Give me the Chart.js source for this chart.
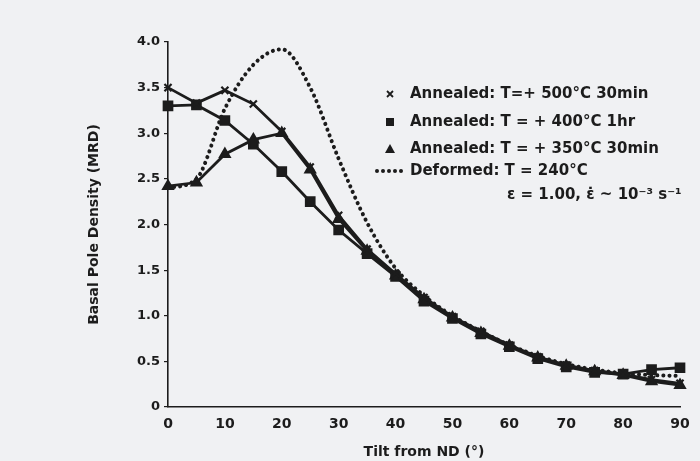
<!DOCTYPE html>
<html>
<head>
<meta charset="utf-8">
<script src="https://cdn.jsdelivr.net/npm/chart.js@4/dist/chart.umd.min.js"></script>
<style>
  html, body { margin: 0; padding: 0; background: #f0f1f3; }
  #wrap { width: 700px; height: 461px; position: relative; }
</style>
</head>
<body>
<div id="wrap"><canvas id="pole"></canvas></div>
<script>
'use strict';
// tilt angle from ND, degrees
const tilt = [0,5,10,15,20,25,30,35,40,45,50,55,60,65,70,75,80,85,90];
// basal pole density (MRD) for each condition
const annealed500 = [3.50,3.33,3.47,3.32,3.02,2.63,2.10,1.73,1.46,1.20,0.99,0.83,0.68,0.55,0.46,0.40,0.36,0.30,0.26];
const annealed400 = [3.30,3.31,3.14,2.88,2.58,2.25,1.94,1.68,1.43,1.16,0.97,0.80,0.66,0.53,0.44,0.38,0.36,0.41,0.43];
const annealed350 = [2.42,2.46,2.77,2.93,3.00,2.60,2.06,1.71,1.44,1.18,0.98,0.81,0.67,0.54,0.45,0.39,0.35,0.28,0.24];
const deformed    = [2.40,2.50,3.27,3.75,3.92,3.50,2.72,2.02,1.52,1.22,1.00,0.83,0.68,0.56,0.47,0.41,0.37,0.35,0.34];
const xTicks = [0,10,20,30,40,50,60,70,80,90];
const yTicks = [0,0.5,1.0,1.5,2.0,2.5,3.0,3.5,4.0];
const legendText = [
  'Annealed: T=+ 500°C 30min',
  'Annealed: T = + 400°C 1hr',
  'Annealed: T = + 350°C 30min',
  'Deformed: T = 240°C',
  'ε = 1.00, ε̇ ~ 10⁻³ s⁻¹'
];

const INK = '#1c1c1c';
const FONT = '"DejaVu Sans", "Liberation Sans", sans-serif';

const pts = arr => arr.map((v,i) => ({x: tilt[i], y: v}));

function marked(data, style, radius) {
  return {
    data: pts(data), borderColor: INK, backgroundColor: INK, borderWidth: 2.8,
    pointStyle: style, pointRadius: radius, pointBorderWidth: 2.2, pointBackgroundColor: INK,
    tension: 0, clip: false
  };
}

// little symbol + text block sitting inside the plot, top right
const legendBox = {
  id: 'legendBox',
  afterDraw(chart) {
    const ctx = chart.ctx;
    const rows = [94, 122, 149, 171];
    const sx = 390, tx = 410;
    ctx.save();
    ctx.fillStyle = INK; ctx.strokeStyle = INK;
    // x marker
    ctx.lineWidth = 1.8;
    ctx.beginPath();
    ctx.moveTo(sx-3, rows[0]-3); ctx.lineTo(sx+3, rows[0]+3);
    ctx.moveTo(sx+3, rows[0]-3); ctx.lineTo(sx-3, rows[0]+3);
    ctx.stroke();
    // square
    ctx.fillRect(sx-4, rows[1]-4, 8, 8);
    // triangle
    ctx.beginPath();
    ctx.moveTo(sx, rows[2]-5); ctx.lineTo(sx+5, rows[2]+4); ctx.lineTo(sx-5, rows[2]+4);
    ctx.closePath(); ctx.fill();
    // dotted sample
    for (let d = 377; d <= 405; d += 6) { ctx.beginPath(); ctx.arc(d, rows[3], 2, 0, Math.PI*2); ctx.fill(); }

    ctx.font = 'bold 15px ' + FONT;
    ctx.textBaseline = 'middle';
    ctx.textAlign = 'left';
    for (let i = 0; i < 4; i++) ctx.fillText(legendText[i], tx, rows[i]);
    ctx.fillText(legendText[4], 507, 195);
    ctx.restore();
  }
};

new Chart(document.getElementById('pole'), {
  type: 'line',
  data: {
    datasets: [
      marked(annealed500, 'crossRot', 5),
      marked(annealed400, 'rect', 6),
      marked(annealed350, 'triangle', 5.5),
      {
        data: pts(deformed), borderColor: INK, borderWidth: 4, borderDash: [0.1, 6],
        borderCapStyle: 'round', pointRadius: 0, cubicInterpolationMode: 'monotone', clip: false
      }
    ]
  },
  options: {
    responsive: true, maintainAspectRatio: false, animation: false,
    layout: { padding: { left: 0, right: 20, top: 42, bottom: 0 } },
    plugins: { legend: { display: false }, tooltip: { enabled: false } },
    scales: {
      x: {
        type: 'linear', min: 0, max: 90,
        afterBuildTicks: s => { s.ticks = xTicks.map(v => ({value: v})); },
        afterFit: s => { s.height = 54; },
        grid: { display: true, drawOnChartArea: false, drawTicks: false },
        border: { display: true, color: INK, width: 1.6 },
        ticks: { color: INK, padding: 9, font: { family: FONT, size: 14, weight: 'bold' }, maxRotation: 0 },
        title: { display: true, text: 'Tilt from ND (°)', color: INK, padding: { top: 0, bottom: 0 },
                 font: { family: FONT, size: 14, weight: 'bold' } }
      },
      y: {
        type: 'linear', min: 0, max: 4,
        afterBuildTicks: s => { s.ticks = yTicks.map(v => ({value: v})); },
        afterFit: s => { s.width = 168; },
        grid: { display: true, drawOnChartArea: false, drawTicks: true, tickLength: 4, color: INK, lineWidth: 1.2 },
        border: { display: true, color: INK, width: 1.6 },
        ticks: { color: INK, padding: 4, font: { family: FONT, size: 13, weight: 'bold' },
                 callback: v => v === 0 ? '0' : v.toFixed(1) },
        title: { display: true, text: 'Basal Pole Density (MRD)', color: INK, padding: { top: 86 },
                 font: { family: FONT, size: 14, weight: 'bold' } }
      }
    }
  },
  plugins: [legendBox]
});
</script>
</body>
</html>
